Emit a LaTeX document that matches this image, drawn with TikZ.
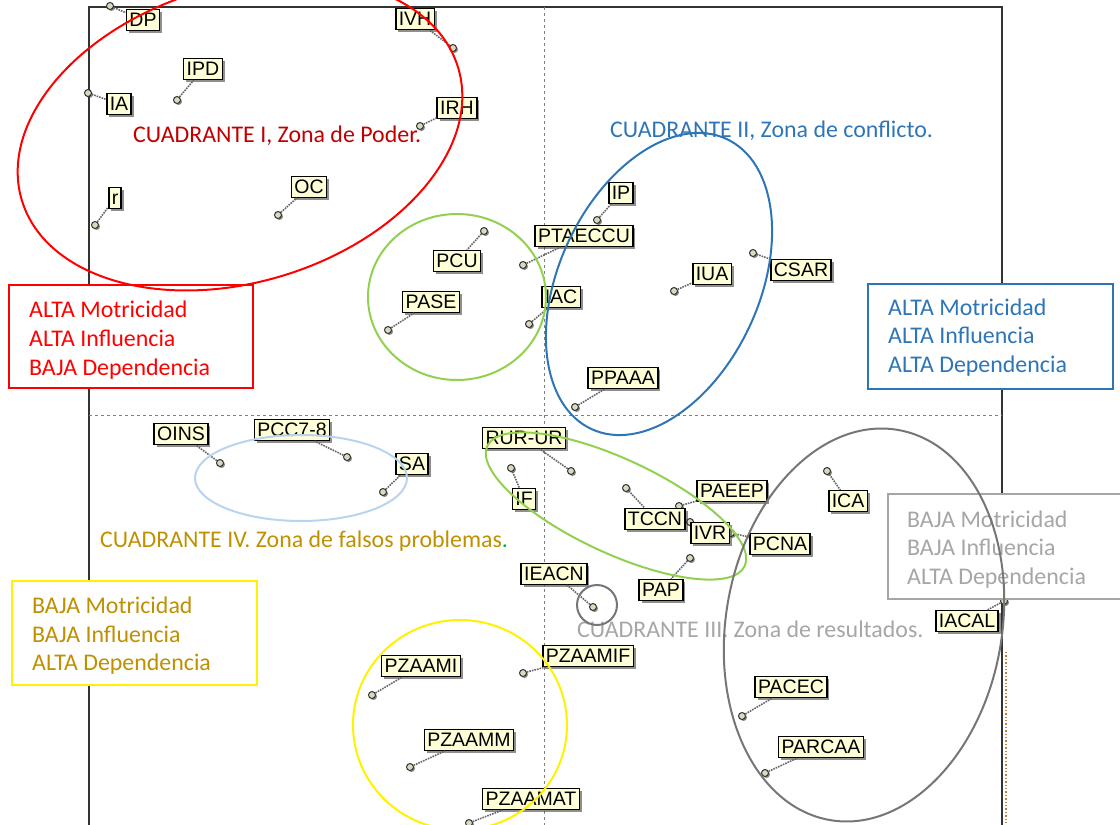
\documentclass[tikz,border=0pt]{standalone}
\usepackage{fontspec}
\setmainfont{Carlito}
\newfontfamily\varfont{Liberation Sans}
\usepackage{xcolor}
\usepackage{tikz}
\usetikzlibrary{positioning, shadows}
\definecolor{cream}{RGB}{255,255,215}
\definecolor{zonered}{RGB}{255,0,0}
\definecolor{darkred}{RGB}{192,0,0}
\definecolor{zoneblue}{RGB}{46,117,182}
\definecolor{zonegreen}{RGB}{146,208,80}
\definecolor{zonegray}{RGB}{118,118,118}
\definecolor{softgray}{RGB}{166,166,166}
\definecolor{gold}{RGB}{191,144,0}
\definecolor{paleblue}{RGB}{184,212,238}
\definecolor{offgreen}{RGB}{0,176,80}

\begin{document}
\begin{tikzpicture}[x=1pt,y=-1pt,
  var/.style={draw, line width=1.5pt, fill=cream, font=\varfont\fontsize{19.5}{19.5}\selectfont,
              text height=13.8pt, text depth=0pt, inner xsep=3pt, inner ysep=3.4pt,
              drop shadow={shadow xshift=2.5pt, shadow yshift=-2.5pt, fill=black!80, opacity=0.55}},
  dot/.style={circle, draw=black!80, fill=cream!70!gray, line width=1pt, minimum size=7pt, inner sep=0pt,
              drop shadow={shadow xshift=1.5pt, shadow yshift=-1.5pt, fill=black!80, opacity=0.6}},
  lead/.style={densely dotted, line width=1.6pt, color=black!60},
  zone/.style={line width=2pt},
  zbox/.style={draw, fill=white, line width=1.5pt, anchor=north west},
  ztext/.style={font=\fontsize{23.9}{29}\selectfont, anchor=base west, inner sep=0pt}]

  \useasboundingbox (0,0) rectangle (1120,825);
  \clip (0,0) rectangle (1120,825);

  %% plot frame and quadrant axes
  \draw[line width=1.4pt, color=black!80] (89,830) -- (89,7) -- (1002,7) -- (1002,830);
  \draw[dashed, color=black!50, line width=0.9pt] (544,7) -- (544,830);
  \draw[dashed, color=black!50, line width=0.9pt] (89,415) -- (1002,415);
  \draw[dotted, color=brown, line width=1.4pt] (1006,652) -- (1006,830);

  %% points
  \node[dot] (pDP) at (110,6) {};
  \node[dot] (pIVH) at (453,48) {};
  \node[dot] (pIPD) at (177,100) {};
  \node[dot] (pIA) at (88,93) {};
  \node[dot] (pIRH) at (420,126) {};
  \node[dot] (pOC) at (278,215) {};
  \node[dot] (pr) at (95,225) {};
  \node[dot] (pIP) at (597,220) {};
  \node[dot] (pPTAECCU) at (523,265) {};
  \node[dot] (pPCU) at (484,231) {};
  \node[dot] (pPASE) at (388,330) {};
  \node[dot] (pIAC) at (529,324) {};
  \node[dot] (pIUA) at (674,291) {};
  \node[dot] (pCSAR) at (753,253) {};
  \node[dot] (pPPAAA) at (575,407) {};
  \node[dot] (pOINS) at (220,463) {};
  \node[dot] (pPCC) at (347,457) {};
  \node[dot] (pSA) at (383,492) {};
  \node[dot] (pRUR) at (571,471) {};
  \node[dot] (pIF) at (511,468) {};
  \node[dot] (pTCCN) at (626,488) {};
  \node[dot] (pPAEEP) at (679,506) {};
  \node[dot] (pIVR) at (690,522) {};
  \node[dot] (pPCNA) at (731,533) {};
  \node[dot] (pPAP) at (690,558) {};
  \node[dot] (pIEACN) at (593,607) {};
  \node[dot] (pICA) at (827,471) {};
  \node[dot] (pIACAL) at (1004,601) {};
  \node[dot] (pPZAAMI) at (372,695) {};
  \node[dot] (pPZAAMIF) at (523,673) {};
  \node[dot] (pPZAAMM) at (410,767) {};
  \node[dot] (pPZAAMAT) at (469,823) {};
  \node[dot] (pPACEC) at (742,716) {};
  \node[dot] (pPARCAA) at (765,773) {};

  %% variables
  \node[var] (DP) at (143,20) {DP};
  \node[var] (IVH) at (415,19) {IVH};
  \node[var] (IPD) at (203,69) {IPD};
  \node[var] (IA) at (119,104) {IA};
  \node[var] (IRH) at (457,108) {IRH};
  \node[var] (OC) at (309,187) {OC};
  \node[var] (r) at (115,198) {r};
  \node[var] (IP) at (621,193) {IP};
  \node[var] (PTAECCU) at (584,236) {PTAECCU};
  \node[var] (PCU) at (457,261) {PCU};
  \node[var] (PASE) at (431,302) {PASE};
  \node[var] (IAC) at (561,297) {IAC};
  \node[var] (IUA) at (712,274) {IUA};
  \node[var] (CSAR) at (801,270) {CSAR};
  \node[var] (PPAAA) at (623,378) {PPAAA};
  \node[var] (OINS) at (181,434) {OINS};
  \node[var] (PCC) at (292,430) {PCC7-8};
  \node[var] (SA) at (412,464) {SA};
  \node[var] (RUR) at (524,438) {RUR-UR};
  \node[var] (IF) at (524,499) {IF};
  \node[var] (TCCN) at (655,519) {TCCN};
  \node[var] (PAEEP) at (732,491) {PAEEP};
  \node[var] (IVR) at (710,533) {IVR};
  \node[var] (PCNA) at (780,544) {PCNA};
  \node[var] (PAP) at (661,590) {PAP};
  \node[var] (IEACN) at (554,574) {IEACN};
  \node[var] (ICA) at (848,501) {ICA};
  \node[var] (IACAL) at (967,621) {IACAL};
  \node[var] (PZAAMI) at (421,666) {PZAAMI};
  \node[var] (PZAAMIF) at (588,656) {PZAAMIF};
  \node[var] (PZAAMM) at (469,740) {PZAAMM};
  \node[var] (PZAAMAT) at (531,799) {PZAAMAT};
  \node[var] (PACEC) at (791,687) {PACEC};
  \node[var] (PARCAA) at (821,747) {PARCAA};

  %% leaders point -> variable
  \draw[lead] (pDP) -- (DP);
  \draw[lead] (pIVH) -- (IVH);
  \draw[lead] (pIPD) -- (IPD);
  \draw[lead] (pIA) -- (IA);
  \draw[lead] (pIRH) -- (IRH);
  \draw[lead] (pOC) -- (OC);
  \draw[lead] (pr) -- (r);
  \draw[lead] (pIP) -- (IP);
  \draw[lead] (pPTAECCU) -- (PTAECCU);
  \draw[lead] (pPCU) -- (PCU);
  \draw[lead] (pPASE) -- (PASE);
  \draw[lead] (pIAC) -- (IAC);
  \draw[lead] (pIUA) -- (IUA);
  \draw[lead] (pCSAR) -- (CSAR);
  \draw[lead] (pPPAAA) -- (PPAAA);
  \draw[lead] (pOINS) -- (OINS);
  \draw[lead] (pPCC) -- (PCC);
  \draw[lead] (pSA) -- (SA);
  \draw[lead] (pRUR) -- (RUR);
  \draw[lead] (pIF) -- (IF);
  \draw[lead] (pTCCN) -- (TCCN);
  \draw[lead] (pPAEEP) -- (PAEEP);
  \draw[lead] (pIVR) -- (IVR);
  \draw[lead] (pPCNA) -- (PCNA);
  \draw[lead] (pPAP) -- (PAP);
  \draw[lead] (pIEACN) -- (IEACN);
  \draw[lead] (pICA) -- (ICA);
  \draw[lead] (pIACAL) -- (IACAL);
  \draw[lead] (pPZAAMI) -- (PZAAMI);
  \draw[lead] (pPZAAMIF) -- (PZAAMIF);
  \draw[lead] (pPZAAMM) -- (PZAAMM);
  \draw[lead] (pPZAAMAT) -- (PZAAMAT);
  \draw[lead] (pPACEC) -- (PACEC);
  \draw[lead] (pPARCAA) -- (PARCAA);

  %% zone boxes
  \node[zbox, draw=zonered, minimum width=244pt, minimum height=103pt] (bxI) at (8,284) {};
  \node[ztext, text=zonered] (bxIa) at (29,317) {ALTA Motricidad};
  \node[ztext, text=zonered] (bxIb) at (29,346) {ALTA Influencia};
  \node[ztext, text=zonered] (bxIc) at (29,375) {BAJA Dependencia};

  \node[zbox, draw=zoneblue, minimum width=245pt, minimum height=105pt] (bxII) at (867,283) {};
  \node[ztext, text=zoneblue] (bxIIa) at (888,315) {ALTA Motricidad};
  \node[ztext, text=zoneblue] (bxIIb) at (888,343) {ALTA Influencia};
  \node[ztext, text=zoneblue] (bxIIc) at (888,372) {ALTA Dependencia};

  \node[zbox, draw=softgray, minimum width=260pt, minimum height=105pt] (bxIII) at (887,493) {};
  \node[ztext, text=softgray] (bxIIIa) at (907,527) {BAJA Motricidad};
  \node[ztext, text=softgray] (bxIIIb) at (907,555) {BAJA Influencia};
  \node[ztext, text=softgray] (bxIIIc) at (907,584) {ALTA Dependencia};

  \node[zbox, draw=yellow, minimum width=245pt, minimum height=104pt] (bxIV) at (11,580) {};
  \node[ztext, text=gold] (bxIVa) at (32,613) {BAJA Motricidad};
  \node[ztext, text=gold] (bxIVb) at (32,642) {BAJA Influencia};
  \node[ztext, text=gold] (bxIVc) at (32,670) {ALTA Dependencia};

  %% quadrant titles
  \node[ztext, text=darkred] (qI) at (133,142) {CUADRANTE I, Zona de Poder.};
  \node[ztext, text=zoneblue] (qII) at (610,137) {CUADRANTE II, Zona de conflicto.};
  \node[ztext, text=softgray] (qIII) at (577,637) {CUADRANTE III. Zona de resultados.};
  \node[ztext, text=gold] (qIV) at (100,547) {CUADRANTE IV. Zona de falsos problemas\textcolor{offgreen}{.}};

  %% zone outlines
  \draw[zone, zonered, rotate around={17:(240,134)}] (240,134) ellipse (228pt and 148pt);
  \draw[zone, zoneblue, rotate around={65:(659,284)}] (659,284) ellipse (160pt and 100pt);
  \draw[zone, zonegreen] (457,297) ellipse (89pt and 83pt);
  \draw[zone, zonegreen, rotate around={-25:(616,506)}] (616,506) ellipse (142pt and 47pt);
  \draw[zone, paleblue] (301,478) ellipse (106pt and 43pt);
  \draw[zone, zonegray, rotate around={-10:(864,625)}] (864,625) ellipse (138pt and 198pt);
  \draw[zone, zonegray] (597,605) circle (20pt);
  \draw[zone, yellow] (460,725) ellipse (107pt and 105pt);
\end{tikzpicture}
\end{document}
